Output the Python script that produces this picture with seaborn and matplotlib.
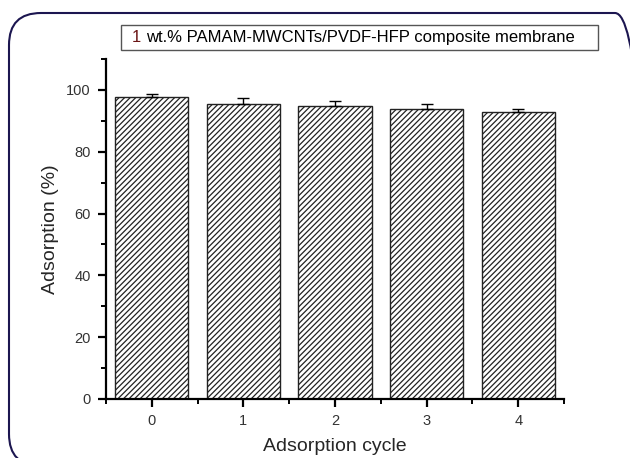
import matplotlib
matplotlib.use("Agg")
import matplotlib.pyplot as plt
import seaborn as sns
import pandas as pd
from matplotlib.patches import FancyBboxPatch, Rectangle
from matplotlib.ticker import MultipleLocator
from matplotlib.transforms import IdentityTransform

# data
cycles = ["0", "1", "2", "3", "4"]
adsorption = [97.8, 95.5, 94.9, 93.8, 92.8]
error_up = [0.9, 1.8, 1.6, 1.5, 1.0]
legend_number = "1"
legend_rest = "wt.% PAMAM-MWCNTs/PVDF-HFP composite membrane"

sns.set_theme(style="ticks")
plt.rcParams["font.family"] = ["Liberation Sans", "DejaVu Sans"]
plt.rcParams["hatch.color"] = "#707070"
plt.rcParams["hatch.linewidth"] = 0.9

W, H = 630, 458
fig = plt.figure(figsize=(6.3, 4.58), dpi=100)
ax = fig.add_axes([106 / W, 1 - 399 / H, (564 - 106) / W, (399 - 59) / H])

df = pd.DataFrame({"cycle": cycles, "adsorption": adsorption})
sns.barplot(data=df, x="cycle", y="adsorption", order=cycles, color="white",
            width=0.8, edgecolor="#222222", linewidth=1.0, errorbar=None, ax=ax)
for bar in ax.patches:
    bar.set_hatch("//////")

ax.errorbar(range(len(cycles)), adsorption, yerr=[[0] * len(cycles), error_up],
            fmt="none", ecolor="black", elinewidth=1.0, capsize=4, capthick=1.0)

ax.set_xlim(-0.5, 4.5)
ax.set_ylim(0, 110)
ax.yaxis.set_major_locator(MultipleLocator(20))
ax.yaxis.set_minor_locator(MultipleLocator(10))
ax.xaxis.set_minor_locator(MultipleLocator(0.5))
sns.despine(ax=ax)
for side in ["left", "bottom"]:
    ax.spines[side].set_linewidth(1.6)
    ax.spines[side].set_color("black")
ax.tick_params(which="major", length=6, width=1.6, labelsize=10.5, color="black",
               labelcolor="#333333", pad=5)
ax.tick_params(which="minor", length=3.5, width=1.4, color="black")

ax.set_xlabel("Adsorption cycle", fontsize=14, labelpad=7)
ax.set_ylabel("Adsorption (%)", fontsize=14, labelpad=5)

# legend-like box at the top, the "1" in dark red
fig.patches.append(Rectangle((121 / W, 1 - 50 / H), (598 - 121) / W, 25 / H,
                             transform=fig.transFigure, facecolor="white",
                             edgecolor="#555555", linewidth=1.0))
num = fig.text(132 / W, 1 - 37.5 / H, legend_number, fontsize=12, va="center",
               ha="left", color="#6b1515")
fig.canvas.draw()
num_box = num.get_window_extent()
fig.text((num_box.x1 + 4.5) / W, 1 - 37.5 / H, legend_rest, fontsize=12,
         va="center", ha="left", color="black")

# rounded frame around the figure (pixel coordinates, partly off the canvas)
fig.patches.append(FancyBboxPatch((9, -8), 638, H - 13 + 8,
                                  boxstyle="round,pad=0,rounding_size=32",
                                  transform=IdentityTransform(), facecolor="none",
                                  edgecolor="#1c1650", linewidth=1.5))

fig.savefig("out.png", dpi=100)
